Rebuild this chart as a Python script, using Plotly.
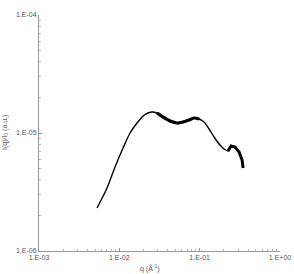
import plotly.graph_objects as go

# data (q in 1/Å, intensity in a.u.)
q_vals = [0.005275, 0.007027, 0.00884, 0.01112, 0.01359, 0.01661, 0.01973, 0.02278,
          0.02554, 0.02948, 0.03501, 0.04280, 0.05232, 0.06213, 0.07379, 0.0852,
          0.0984, 0.1134, 0.1309, 0.1511, 0.1744, 0.2013, 0.2258, 0.2460,
          0.2759, 0.3095, 0.3373, 0.3471]
i_vals = [2.314e-6, 3.42e-6, 5.15e-6, 7.46e-6, 1.0e-5, 1.215e-5, 1.393e-5, 1.477e-5,
          1.507e-5, 1.477e-5, 1.366e-5, 1.264e-5, 1.215e-5, 1.240e-5, 1.289e-5, 1.340e-5,
          1.314e-5, 1.240e-5, 1.081e-5, 9.25e-6, 8.07e-6, 7.32e-6, 7.04e-6, 7.76e-6,
          7.61e-6, 6.90e-6, 5.90e-6, 5.05e-6]

# noisy band segments (thicker drawing)
band_q = q_vals[9:17]
band_i = i_vals[9:17]
tail_q = q_vals[22:28]
tail_i = i_vals[22:28]

x_ticks = [1e-3, 1e-2, 1e-1, 1e0]
x_ticktext = ["1.E-03", "1.E-02", "1.E-01", "1.E+00"]
y_ticks = [1e-6, 1e-5, 1e-4]
y_ticktext = ["1.E-06", "1.E-05", "1.E-04"]
minor_mult = [2, 3, 4, 5, 6, 7, 8, 9]
x_minor = [m * d for d in [1e-3, 1e-2, 1e-1] for m in minor_mult]
y_minor = [m * d for d in [1e-6, 1e-5] for m in minor_mult]

fig = go.Figure()
fig.add_trace(go.Scatter(x=q_vals, y=i_vals, mode="lines",
                         line=dict(color="black", width=1.4, shape="spline", smoothing=0.8),
                         showlegend=False))
fig.add_trace(go.Scatter(x=band_q, y=band_i, mode="lines",
                         line=dict(color="black", width=3.2, shape="spline", smoothing=0.8),
                         showlegend=False))
fig.add_trace(go.Scatter(x=tail_q, y=tail_i, mode="lines",
                         line=dict(color="black", width=3), showlegend=False))

font = dict(family="Liberation Sans, Arial, sans-serif", size=7, color="#555555")

axis_common = dict(type="log", showgrid=False, zeroline=False, showline=True,
                   linecolor="#999999", linewidth=1, ticks="inside", ticklen=3,
                   tickcolor="#999999", tickfont=font, automargin=False)

fig.update_layout(
    width=294, height=274,
    margin=dict(l=39, r=14, t=15, b=23),
    paper_bgcolor="white", plot_bgcolor="white",
    font=font,
    xaxis=dict(range=[-3, 0], tickvals=x_ticks, ticktext=x_ticktext,
               minor=dict(tickvals=x_minor, ticks="inside", ticklen=2,
                          tickcolor="#bbbbbb", showgrid=False),
               **axis_common),
    yaxis=dict(range=[-6, -4], tickvals=y_ticks, ticktext=y_ticktext,
               minor=dict(tickvals=y_minor, ticks="inside", ticklen=2,
                          tickcolor="#bbbbbb", showgrid=False),
               **axis_common),
)

pw = 294 - 39 - 14
ph = 274 - 15 - 23
fig.add_annotation(text="q (Å<sup>-1</sup>)", xref="paper", yref="paper",
                   x=(150 - 39) / pw, y=-(268 - 251) / ph,
                   xanchor="center", yanchor="middle", showarrow=False, font=font)
fig.add_annotation(text="I(q)/I<sub>0</sub> (a.u.)", textangle=-90, xref="paper", yref="paper",
                   x=-(39 - 5) / pw, y=0.5, xanchor="center", yanchor="middle",
                   showarrow=False, font=font)

fig.write_html("out.html")
